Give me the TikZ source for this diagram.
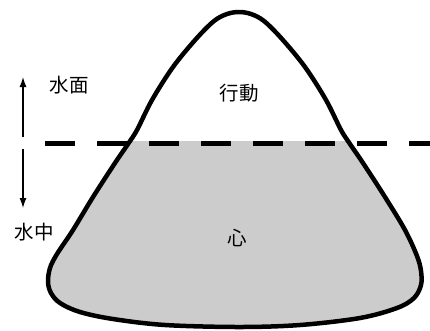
\documentclass[tikz,border=0pt]{standalone}
\usepackage{fontspec}
\newfontfamily\cjk{Noto Sans CJK JP}
\usetikzlibrary{arrows.meta}
\begin{document}
\begin{tikzpicture}[x=1pt,y=-1pt,
  lbl/.style={font=\cjk\fontsize{19.5}{19.5}\selectfont,inner sep=0pt},
  outline/.style={line width=4.5pt,line join=round},
  waterline/.style={line width=5pt,dash pattern=on 30pt off 22pt},
  vec/.style={line width=1.3pt,-{Latex[length=10pt,width=7pt]}}]
\useasboundingbox (0,0) rectangle (430,330);
\def\berg{plot[smooth cycle,tension=0.55] coordinates {
 (239,12) (251,14) (264,21) (282,39) (305,67) (326,100) (341,130) (350,144) (363,163)
 (385,197) (405,230) (417,256) (421,271) (421,285) (414,298) (397,308) (360,318)
 (300,325) (239,327) (165,325) (113,319) (80,312) (60,303) (51,293) (48,282)
 (50,268) (57,254) (73,230) (93,197) (115,163) (128,144) (137,130) (152,100) (173,67)
 (196,39) (214,21) (227,14)}}
\begin{scope}
 \clip (0,141) rectangle (430,330);
 \fill[fill={rgb,255:red,204;green,204;blue,204}] \berg;
\end{scope}
\draw[outline] \berg;
\coordinate (wl) at (45,143.5);
\coordinate (wr) at (430,143.5);
\draw[waterline] (wl) -- (wr);
\coordinate (a0) at (23,137);
\coordinate (a1) at (23,77);
\coordinate (b0) at (23,149);
\coordinate (b1) at (23,208);
\draw[vec] (a0) -- (a1);
\draw[vec] (b0) -- (b1);
\node[lbl] (surface) at (69,85) {水面};
\node[lbl] (under) at (34,232) {水中};
\node[lbl] (act) at (239,93) {行動};
\node[lbl] (mind) at (237,238) {心};
\end{tikzpicture}
\end{document}
